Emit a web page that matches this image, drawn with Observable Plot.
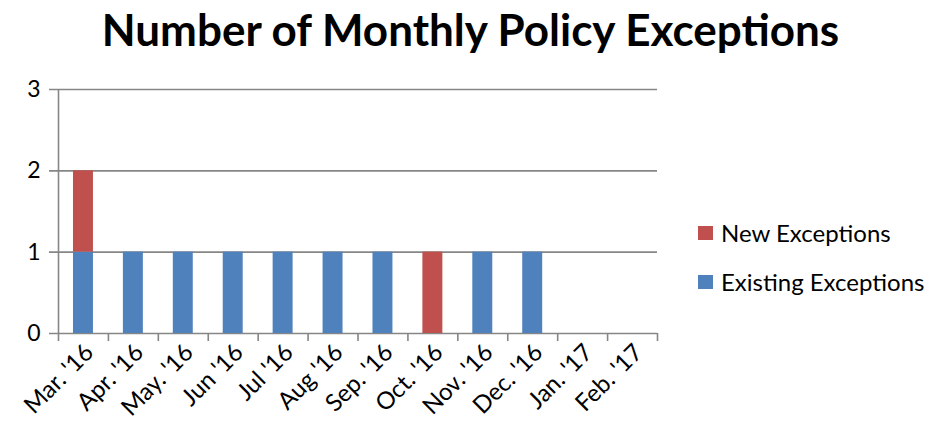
<!DOCTYPE html>
<html><head><meta charset="utf-8">
<script src="https://cdn.jsdelivr.net/npm/d3@7"></script>
<script src="https://cdn.jsdelivr.net/npm/@observablehq/plot@0.6"></script>
<style>
body{margin:0;background:#fff;font-family:Lato,"Open Sans",sans-serif;}
#wrap{position:relative;width:927px;height:431px;}
#title{position:absolute;left:7px;top:1px;width:927px;height:70px;text-align:center;font-weight:bold;font-size:44px;line-height:56px;color:#000;}
#chart{position:absolute;left:0;top:70px;}
.leg{position:absolute;left:698px;font-size:24px;color:#000;display:flex;align-items:center;white-space:nowrap;}
.sw{width:15px;height:14px;margin-right:8px;display:inline-block;}
</style></head>
<body>
<div id="wrap">
<div id="title">Number of Monthly Policy Exceptions</div>
<div id="chart"></div>
<div class="leg" style="top:218px"><span class="sw" style="background:#C0504D"></span>New Exceptions</div>
<div class="leg" style="top:267px"><span class="sw" style="background:#4F81BD"></span>Existing Exceptions</div>
</div>
<script>
const months = ["Mar. '16","Apr. '16","May. '16","Jun '16","Jul '16","Aug '16","Sep. '16","Oct. '16","Nov. '16","Dec. '16","Jan. '17","Feb. '17"];
const existing = [1,1,1,1,1,1,1,0,1,1,0,0];
const newExceptions = [1,0,0,0,0,0,0,1,0,0,0,0];
const yTicks = [0,1,2,3];
const seriesNames = ["Existing Exceptions","New Exceptions"];
const seriesColors = ["#4F81BD","#C0504D"];

const rows = [];
months.forEach((m,i)=>{
  rows.push({month:m, series:seriesNames[0], value:existing[i]});
  rows.push({month:m, series:seriesNames[1], value:newExceptions[i]});
});

const W = 927, H = 361, ML = 58, MR = 270;
const step = (W - ML - MR) / months.length;
const grid = "#868686";

const plot = Plot.plot({
  width: W, height: H,
  marginLeft: ML, marginRight: MR, marginTop: 19, marginBottom: 98,
  style: {fontFamily: "Lato, 'Open Sans', sans-serif", color: "#000", background: "#fff"},
  x: {domain: months, paddingInner: 0.6, paddingOuter: 0.3, round: false, axis: null},
  y: {domain: [0,3], axis: null},
  color: {domain: seriesNames, range: seriesColors},
  marks: [
    Plot.ruleY(yTicks, {y: d=>d, stroke: grid, strokeWidth: 1.6, insetLeft: -9}),
    Plot.ruleX([months[0]], {x: d=>d, y1: 0, y2: 3, dx: -step/2, stroke: grid, strokeWidth: 1.6}),
    Plot.ruleX(months, {x: d=>d, y1: 0, y2: 0, insetBottom: -8, dx: -step/2, stroke: grid, strokeWidth: 1.6}),
    Plot.ruleX([months[months.length-1]], {x: d=>d, y1: 0, y2: 0, insetBottom: -8, dx: step/2, stroke: grid, strokeWidth: 1.6}),
    Plot.barY(rows, {x: "month", y: "value", fill: "series"}),
    Plot.text(yTicks, {y: d=>d, text: d=>String(d), frameAnchor: "left", dx: -18, textAnchor: "end", fontSize: 23}),
    Plot.text(months, {x: d=>d, y: 0, text: d=>d, rotate: -45, textAnchor: "end", dx: 6, dy: 15, fontSize: 24})
  ]
});
document.getElementById("chart").appendChild(plot);
</script>
</body></html>
